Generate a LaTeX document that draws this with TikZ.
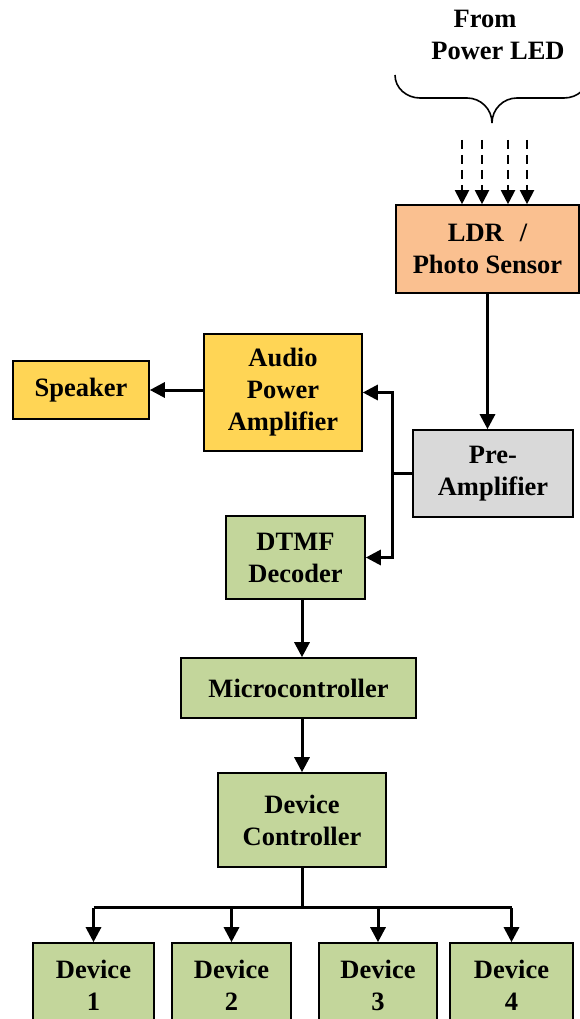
\documentclass[tikz,border=0pt]{standalone}
\usepackage{fontspec}
\setmainfont{Liberation Serif}
\usetikzlibrary{arrows.meta}

\definecolor{ldrorange}{HTML}{FAC090}
\definecolor{ampyellow}{HTML}{FFD555}
\definecolor{pregrey}{HTML}{D9D9D9}
\definecolor{ctrlgreen}{HTML}{C3D69B}

\tikzset{
	block/.style={rectangle,draw=black,line width=1.6pt,inner sep=0pt,align=center,
		font=\fontsize{26.5}{32}\selectfont\bfseries},
	sig/.style={line width=3pt,-{Triangle[length=15pt,width=15pt]}},
}

\begin{document}
\begin{tikzpicture}[x=1pt,y=-1pt]
			\useasboundingbox (0,0) rectangle (580,1019);

			\node[font=\fontsize{26.5}{32}\selectfont\bfseries,align=center] (led) at (498,35) {From\hspace*{26pt}\\Power LED};
			\draw[line width=1.6pt] (395,75) to[out=-90,in=180] (420,98) -- (467,98)
				to[out=0,in=90] (492,123) to[out=90,in=180] (517,98) -- (564,98)
				to[out=0,in=-90] (589,75);

			\begin{scope}[every node/.style={block}]
				\node[fill=ldrorange,minimum width=183pt,minimum height=88pt] (ldr) at (487.5,249) {LDR\hspace{16pt}/\\Photo Sensor};
				\node[fill=pregrey,minimum width=160pt,minimum height=87pt] (pre) at (493,473.5) {Pre-\\Amplifier};
				\node[fill=ampyellow,minimum width=158pt,minimum height=117pt] (apa) at (283,392.5) {Audio\\Power\\Amplifier};
				\node[fill=ampyellow,minimum width=136pt,minimum height=58pt] (spk) at (81,390) {Speaker};
				\node[fill=ctrlgreen,minimum width=139pt,minimum height=83pt] (dtmf) at (295.5,557.5) {DTMF\\Decoder};
				\node[fill=ctrlgreen,minimum width=235pt,minimum height=60pt] (mc) at (298.5,688) {Microcontroller};
				\node[fill=ctrlgreen,minimum width=168pt,minimum height=94pt] (dc) at (302,820) {Device\\Controller};
				\node[fill=ctrlgreen,minimum width=121pt,minimum height=84pt] (d1) at (93.5,985) {Device\\1};
				\node[fill=ctrlgreen,minimum width=119pt,minimum height=84pt] (d2) at (231.5,985) {Device\\2};
				\node[fill=ctrlgreen,minimum width=118pt,minimum height=84pt] (d3) at (378,985) {Device\\3};
				\node[fill=ctrlgreen,minimum width=123pt,minimum height=84pt] (d4) at (511.5,985) {Device\\4};
			\end{scope}

			% light from the power LED
			\foreach \i/\lx in {1/462,2/482,3/508,4/527} {
				\coordinate (ray\i) at (\lx,140);
				\draw[line width=2pt,dash pattern=on 9pt off 6pt,-{Triangle[length=14pt,width=14pt]}] (ray\i) -- (ray\i |- ldr.north);
			}

			\begin{scope}[every path/.style={sig}]
				\draw (ldr.south) -- (ldr.south |- pre.north);
				\draw (apa.west |- spk.east) -- (spk.east);
				\draw (dc.north |- dtmf.south) -- (dc.north |- mc.north);
				\draw (dc.north |- mc.south) -- (dc.north);
			\end{scope}

			\draw[line width=3pt] (pre.west) -- ++(-20,0) coordinate (split);
			\draw[sig] (split) |- (apa.east);
			\draw[sig] (split) |- (dtmf.east);

			\draw[line width=3pt] (dc.south) -- ++(0,40) coordinate (fan);
			\draw[line width=3pt] (d1.north |- fan) -- (d4.north |- fan);
			\foreach \d in {d1,d2,d3,d4}
				\draw[sig] (\d.north |- fan) -- (\d.north);
		\end{tikzpicture}
\end{document}
